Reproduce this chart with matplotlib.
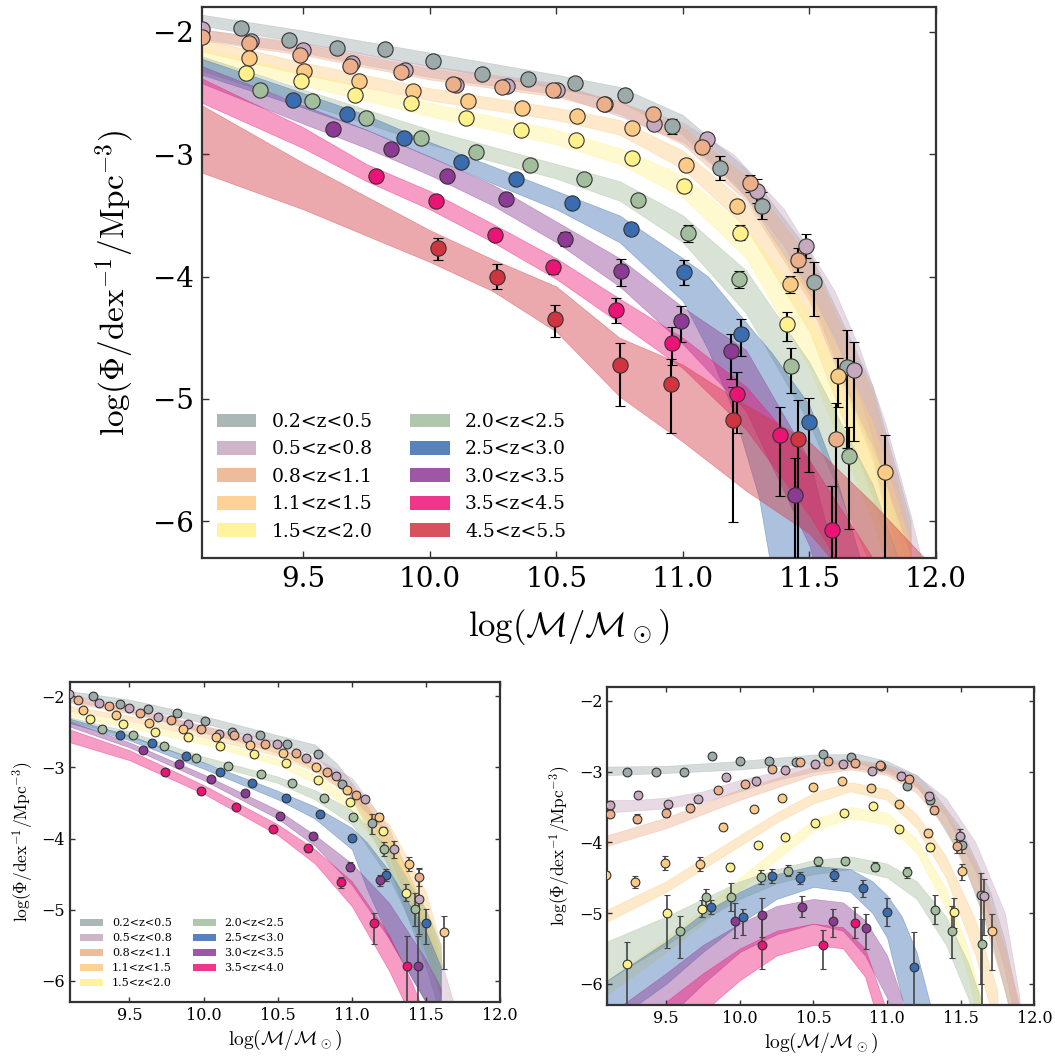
import matplotlib
matplotlib.use("Agg")
import matplotlib.pyplot as plt
from matplotlib.patches import Patch

plt.rcParams['font.family'] = ['DejaVu Serif']
plt.rcParams['mathtext.fontset'] = 'cm'

# ---------------- colours / labels ----------------
COLORS = ['#9DAAAA', '#C6A9BF', '#ECAF8A', '#FDCB85', '#FFF28D',
          '#A3BE9C', '#3A6CB0', '#8C3A94', '#EB1476', '#D0343F']
LABELS_TOP = ['0.2<z<0.5', '0.5<z<0.8', '0.8<z<1.1', '1.1<z<1.5', '1.5<z<2.0',
              '2.0<z<2.5', '2.5<z<3.0', '3.0<z<3.5', '3.5<z<4.5', '4.5<z<5.5']
LABELS_BL = ['0.2<z<0.5', '0.5<z<0.8', '0.8<z<1.1', '1.1<z<1.5', '1.5<z<2.0',
             '2.0<z<2.5', '2.5<z<3.0', '3.0<z<3.5', '3.5<z<4.0']
X_TICKS = [9.5, 10.0, 10.5, 11.0, 11.5, 12.0]
Y_TICKS = [-2, -3, -4, -5, -6]

# ---------------- TOP panel: data points ----------------
top_mass = [
    [9.254, 9.445, 9.633, 9.823, 10.015, 10.205, 10.388, 10.573, 10.770, 10.956, 11.145, 11.311, 11.517, 11.649],
    [9.103, 9.296, 9.500, 9.695, 9.901, 10.103, 10.304, 10.502, 10.691, 10.888, 11.097, 11.294, 11.485, 11.675],
    [9.103, 9.287, 9.487, 9.684, 9.886, 10.092, 10.287, 10.489, 10.688, 10.882, 11.077, 11.265, 11.456, 11.606],
    [9.287, 9.502, 9.721, 9.934, 10.151, 10.366, 10.583, 10.800, 11.011, 11.215, 11.425, 11.614, 11.800],
    [9.274, 9.494, 9.705, 9.925, 10.145, 10.362, 10.579, 10.800, 11.004, 11.224, 11.410],
    [9.329, 9.537, 9.750, 9.965, 10.182, 10.396, 10.609, 10.824, 11.020, 11.221, 11.429, 11.658],
    [9.461, 9.675, 9.899, 10.125, 10.340, 10.564, 10.794, 11.004, 11.228, 11.500],
    [9.618, 9.849, 10.070, 10.300, 10.533, 10.754, 10.991, 11.191, 11.445],
    [9.787, 10.027, 10.257, 10.489, 10.735, 10.958, 11.215, 11.382, 11.590],
    [10.035, 10.267, 10.494, 10.751, 10.952, 11.198, 11.456],
]
top_phi = [
    [-1.967, -2.065, -2.134, -2.142, -2.240, -2.342, -2.383, -2.416, -2.517, -2.772, -3.112, -3.421, -4.041, -4.738],
    [-1.976, -2.077, -2.147, -2.256, -2.315, -2.438, -2.446, -2.478, -2.587, -2.750, -2.880, -3.299, -3.750, -4.766],
    [-2.044, -2.093, -2.187, -2.280, -2.329, -2.424, -2.452, -2.473, -2.587, -2.674, -2.940, -3.239, -3.864, -5.331],
    [-2.212, -2.323, -2.403, -2.485, -2.566, -2.623, -2.690, -2.788, -3.090, -3.421, -4.062, -4.815, -5.597],
    [-2.334, -2.400, -2.519, -2.582, -2.707, -2.799, -2.886, -3.035, -3.261, -3.641, -4.388],
    [-2.473, -2.568, -2.704, -2.872, -2.984, -3.090, -3.204, -3.378, -3.646, -4.021, -4.728, -5.467],
    [-2.554, -2.674, -2.864, -3.068, -3.204, -3.402, -3.614, -3.967, -4.467, -5.190],
    [-2.791, -2.954, -3.179, -3.367, -3.693, -3.954, -4.361, -4.611, -5.787],
    [-3.177, -3.380, -3.660, -3.926, -4.277, -4.543, -4.958, -5.296, -6.070],
    [-3.769, -4.000, -4.345, -4.725, -4.877, -5.176, -5.325],
]
top_err_up = [
    [0.03, 0.03, 0.03, 0.04, 0.04, 0.04, 0.04, 0.04, 0.05, 0.06, 0.10, 0.11, 0.16, 0.30],
    [0.03, 0.03, 0.03, 0.03, 0.03, 0.03, 0.03, 0.03, 0.03, 0.04, 0.05, 0.10, 0.10, 0.23],
    [0.03, 0.03, 0.03, 0.03, 0.03, 0.03, 0.03, 0.03, 0.03, 0.04, 0.05, 0.07, 0.10, 0.30],
    [0.03, 0.03, 0.03, 0.03, 0.03, 0.03, 0.03, 0.04, 0.05, 0.05, 0.07, 0.15, 0.30],
    [0.03, 0.03, 0.03, 0.03, 0.03, 0.03, 0.03, 0.04, 0.05, 0.06, 0.10],
    [0.03, 0.03, 0.03, 0.03, 0.03, 0.03, 0.03, 0.04, 0.07, 0.07, 0.14, 0.24],
    [0.03, 0.03, 0.03, 0.03, 0.03, 0.04, 0.05, 0.10, 0.12, 0.20],
    [0.03, 0.03, 0.04, 0.05, 0.06, 0.10, 0.12, 0.14, 0.30],
    [0.03, 0.03, 0.04, 0.05, 0.10, 0.13, 0.18, 0.23, 0.36],
    [0.08, 0.10, 0.11, 0.18, 0.20, 0.27, 0.32],
]
top_err_lo = [
    [0.03, 0.03, 0.03, 0.04, 0.04, 0.04, 0.04, 0.04, 0.05, 0.06, 0.10, 0.11, 0.28, 0.66],
    [0.03, 0.03, 0.03, 0.03, 0.03, 0.03, 0.03, 0.03, 0.03, 0.04, 0.05, 0.10, 0.10, 0.58],
    [0.03, 0.03, 0.03, 0.03, 0.03, 0.03, 0.03, 0.03, 0.03, 0.04, 0.05, 0.07, 0.10, 1.20],
    [0.03, 0.03, 0.03, 0.03, 0.03, 0.03, 0.03, 0.04, 0.05, 0.05, 0.07, 0.25, 1.00],
    [0.03, 0.03, 0.03, 0.03, 0.03, 0.03, 0.03, 0.04, 0.05, 0.06, 0.14],
    [0.03, 0.03, 0.03, 0.03, 0.03, 0.03, 0.03, 0.04, 0.07, 0.07, 0.22, 0.60],
    [0.03, 0.03, 0.03, 0.03, 0.03, 0.04, 0.05, 0.10, 0.18, 0.41],
    [0.03, 0.03, 0.04, 0.05, 0.06, 0.12, 0.17, 0.23, 1.00],
    [0.03, 0.03, 0.04, 0.05, 0.10, 0.18, 0.32, 0.50, 0.60],
    [0.10, 0.10, 0.15, 0.33, 0.40, 0.83, 1.00],
]

# ---------------- TOP panel: model bands ----------------
top_band_x = [
    [9.1, 9.5, 10.0, 10.5, 10.75, 11.0, 11.25, 11.5, 11.75, 11.9],
    [9.1, 9.5, 10.0, 10.5, 10.75, 11.0, 11.2, 11.4, 11.6, 11.7, 11.8, 11.9, 12.0],
    [9.1, 9.5, 10.0, 10.5, 10.75, 11.0, 11.25, 11.5, 11.75, 11.9],
    [9.1, 9.5, 10.0, 10.5, 10.75, 11.0, 11.25, 11.5, 11.75, 11.9],
    [9.1, 9.5, 10.0, 10.5, 10.75, 11.0, 11.25, 11.5, 11.75, 11.9],
    [9.1, 9.5, 10.0, 10.5, 10.75, 11.0, 11.25, 11.5, 11.75, 11.85],
    [9.1, 9.5, 9.75, 10.0, 10.25, 10.5, 10.75, 11.0, 11.1, 11.2, 11.3, 11.35, 11.5, 11.6, 11.7],
    [9.1, 9.5, 9.75, 10.0, 10.25, 10.5, 10.75, 11.0, 11.25, 11.5, 11.6],
    [9.1, 9.5, 9.75, 10.0, 10.25, 10.5, 10.75, 11.0, 11.25, 11.5, 11.75],
    [9.1, 9.5, 10.0, 10.25, 10.5, 10.75, 11.0, 11.25, 11.5, 11.75, 12.0],
]
top_band_hi = [
    [-1.86, -1.99, -2.17, -2.35, -2.45, -2.68, -3.12, -3.80, -4.90, -6.00],
    [-1.98, -2.09, -2.28, -2.42, -2.58, -2.74, -3.00, -3.45, -4.12, -4.60, -5.20, -5.95, -6.80],
    [-1.98, -2.10, -2.30, -2.44, -2.57, -2.78, -3.18, -3.85, -4.95, -6.10],
    [-2.06, -2.25, -2.46, -2.62, -2.72, -2.97, -3.40, -4.10, -5.20, -6.20],
    [-2.13, -2.33, -2.58, -2.80, -2.95, -3.17, -3.60, -4.30, -5.40, -6.30],
    [-2.20, -2.47, -2.80, -3.08, -3.22, -3.50, -3.95, -4.70, -5.70, -6.30],
    [-2.22, -2.50, -2.68, -2.90, -3.10, -3.30, -3.50, -3.85, -4.00, -4.25, -4.50, -4.62, -5.05, -5.60, -6.30],
    [-2.28, -2.60, -2.80, -3.02, -3.25, -3.55, -3.85, -4.25, -4.60, -5.50, -6.30],
    [-2.38, -2.78, -3.08, -3.30, -3.57, -3.85, -4.18, -4.50, -4.90, -5.50, -6.30],
    [-2.60, -3.07, -3.62, -3.86, -4.08, -4.50, -4.72, -5.05, -5.35, -5.85, -6.40],
]
top_band_lo = [
    [-1.95, -2.09, -2.28, -2.46, -2.57, -2.84, -3.35, -4.15, -5.45, -6.70],
    [-2.06, -2.17, -2.37, -2.51, -2.69, -2.90, -3.22, -3.75, -4.50, -5.00, -5.65, -6.50, -7.30],
    [-2.07, -2.19, -2.39, -2.53, -2.67, -2.92, -3.38, -4.20, -5.50, -6.80],
    [-2.16, -2.35, -2.56, -2.72, -2.84, -3.12, -3.60, -4.45, -5.80, -6.90],
    [-2.24, -2.44, -2.69, -2.92, -3.08, -3.35, -3.85, -4.75, -6.00, -7.00],
    [-2.32, -2.58, -2.92, -3.20, -3.38, -3.72, -4.30, -5.20, -6.40, -7.00],
    [-2.35, -2.62, -2.80, -3.02, -3.24, -3.45, -3.72, -4.20, -4.60, -5.10, -5.80, -6.40, -7.00, -7.50, -8.00],
    [-2.42, -2.75, -2.95, -3.17, -3.42, -3.72, -4.08, -4.55, -5.10, -6.20, -7.00],
    [-2.58, -2.95, -3.22, -3.45, -3.72, -4.02, -4.38, -4.75, -5.25, -5.95, -6.80],
    [-3.15, -3.45, -3.88, -4.12, -4.45, -4.98, -5.35, -5.75, -6.10, -6.70, -7.20],
]

# ---------------- BOTTOM-LEFT panel ----------------
bl_mass = [
    [9.256, 9.439, 9.629, 9.823, 10.012, 10.195, 10.384, 10.565, 10.770, 10.933, 11.136],
    [9.090, 9.292, 9.500, 9.692, 9.895, 10.102, 10.296, 10.495, 10.691, 10.894, 11.091, 11.287, 11.452],
    [9.155, 9.360, 9.574, 9.782, 9.985, 10.206, 10.418, 10.621, 10.831, 11.030, 11.452],
    [9.189, 9.410, 9.635, 9.861, 10.087, 10.312, 10.533, 10.759, 10.971, 11.183, 11.386, 11.623],
    [9.234, 9.459, 9.674, 9.895, 10.114, 10.339, 10.556, 10.770, 10.989, 11.210, 11.368],
    [9.313, 9.523, 9.732, 9.947, 10.166, 10.387, 10.594, 10.813, 11.007, 11.219, 11.425],
    [9.439, 9.653, 9.884, 10.109, 10.330, 10.554, 10.786, 11.000, 11.233, 11.499],
    [9.595, 9.832, 10.048, 10.283, 10.515, 10.741, 10.985, 11.188, 11.445],
    [9.737, 9.985, 10.222, 10.470, 10.703, 10.928, 11.147, 11.373],
]
bl_phi = [
    [-2.000, -2.116, -2.186, -2.242, -2.349, -2.498, -2.549, -2.674, -2.819, -3.237, -3.781],
    [-1.977, -2.093, -2.172, -2.288, -2.386, -2.535, -2.591, -2.674, -2.865, -3.126, -3.451, -4.149, -4.847],
    [-2.060, -2.140, -2.242, -2.340, -2.465, -2.544, -2.674, -2.800, -3.065, -3.395, -4.544],
    [-2.200, -2.265, -2.381, -2.465, -2.581, -2.688, -2.805, -2.991, -3.316, -3.698, -4.353, -5.307],
    [-2.316, -2.386, -2.498, -2.581, -2.707, -2.819, -2.944, -3.172, -3.488, -3.893, -4.763],
    [-2.465, -2.549, -2.707, -2.870, -2.986, -3.098, -3.223, -3.428, -3.698, -4.149, -4.995],
    [-2.549, -2.656, -2.847, -3.070, -3.219, -3.428, -3.656, -3.991, -4.512, -5.186],
    [-2.758, -2.949, -3.163, -3.363, -3.684, -3.958, -4.395, -4.586, -5.791],
    [-3.070, -3.340, -3.558, -3.860, -4.140, -4.614, -5.186, -5.791],
]
bl_err_up = [
    [0.02, 0.02, 0.02, 0.02, 0.02, 0.02, 0.02, 0.03, 0.03, 0.05, 0.12],
    [0.02, 0.02, 0.02, 0.02, 0.02, 0.02, 0.02, 0.02, 0.03, 0.03, 0.04, 0.12, 0.43],
    [0.02, 0.02, 0.02, 0.02, 0.02, 0.02, 0.02, 0.02, 0.03, 0.03, 0.12],
    [0.02, 0.02, 0.02, 0.02, 0.02, 0.02, 0.02, 0.02, 0.03, 0.05, 0.10, 0.22],
    [0.02, 0.02, 0.02, 0.02, 0.02, 0.02, 0.02, 0.02, 0.03, 0.05, 0.12],
    [0.02, 0.02, 0.02, 0.02, 0.02, 0.02, 0.02, 0.03, 0.04, 0.10, 0.23],
    [0.02, 0.02, 0.02, 0.02, 0.02, 0.02, 0.03, 0.04, 0.08, 0.20],
    [0.02, 0.02, 0.02, 0.03, 0.03, 0.04, 0.06, 0.08, 0.42],
    [0.02, 0.02, 0.02, 0.03, 0.05, 0.08, 0.14, 0.42],
]
bl_err_lo = [
    [0.02, 0.02, 0.02, 0.02, 0.02, 0.02, 0.02, 0.03, 0.03, 0.05, 0.16],
    [0.02, 0.02, 0.02, 0.02, 0.02, 0.02, 0.02, 0.02, 0.03, 0.03, 0.04, 0.12, 0.50],
    [0.02, 0.02, 0.02, 0.02, 0.02, 0.02, 0.02, 0.02, 0.03, 0.03, 0.12],
    [0.02, 0.02, 0.02, 0.02, 0.02, 0.02, 0.02, 0.02, 0.03, 0.05, 0.10, 0.53],
    [0.02, 0.02, 0.02, 0.02, 0.02, 0.02, 0.02, 0.02, 0.03, 0.05, 0.12],
    [0.02, 0.02, 0.02, 0.02, 0.02, 0.02, 0.02, 0.03, 0.04, 0.10, 0.23],
    [0.02, 0.02, 0.02, 0.02, 0.02, 0.02, 0.03, 0.04, 0.08, 0.30],
    [0.02, 0.02, 0.02, 0.03, 0.03, 0.04, 0.06, 0.08, 0.60],
    [0.02, 0.02, 0.02, 0.03, 0.05, 0.08, 0.30, 0.60],
]
bl_band_x = [
    [9.1, 9.5, 10.0, 10.5, 10.75, 10.9, 11.0, 11.25, 11.5, 11.6],
    [9.1, 9.5, 10.0, 10.5, 10.75, 11.0, 11.25, 11.5, 11.6, 11.7],
    [9.1, 9.5, 10.0, 10.5, 10.75, 11.0, 11.25, 11.5, 11.6],
    [9.1, 9.5, 10.0, 10.5, 10.75, 11.0, 11.25, 11.5, 11.6],
    [9.1, 9.5, 10.0, 10.5, 10.75, 11.0, 11.25, 11.5, 11.6],
    [9.1, 9.5, 10.0, 10.5, 10.75, 11.0, 11.25, 11.5, 11.6],
    [9.1, 9.5, 10.0, 10.5, 10.75, 11.0, 11.1, 11.25, 11.5, 11.6],
    [9.1, 9.5, 10.0, 10.5, 10.75, 11.0, 11.25, 11.5, 11.6],
    [9.1, 9.5, 10.0, 10.5, 10.75, 11.0, 11.25, 11.4, 11.5],
]
bl_band_hi = [
    [-1.93, -2.05, -2.28, -2.55, -2.68, -2.95, -3.22, -4.00, -5.20, -5.80],
    [-2.00, -2.13, -2.42, -2.63, -2.86, -3.15, -3.85, -5.10, -5.70, -6.40],
    [-2.02, -2.17, -2.42, -2.72, -2.93, -3.28, -3.95, -5.00, -5.60],
    [-2.14, -2.28, -2.50, -2.75, -2.95, -3.27, -3.80, -4.75, -5.50],
    [-2.22, -2.37, -2.60, -2.88, -3.10, -3.45, -3.95, -5.05, -5.60],
    [-2.30, -2.50, -2.85, -3.13, -3.32, -3.60, -4.15, -5.00, -5.50],
    [-2.32, -2.55, -2.93, -3.33, -3.55, -3.85, -4.05, -4.45, -5.30, -5.80],
    [-2.36, -2.65, -3.10, -3.60, -3.95, -4.35, -4.90, -5.70, -6.10],
    [-2.47, -2.76, -3.25, -3.80, -4.15, -4.60, -5.35, -6.00, -6.50],
]
bl_band_lo = [
    [-2.00, -2.13, -2.38, -2.66, -2.82, -3.15, -3.45, -4.40, -5.80, -6.50],
    [-2.07, -2.21, -2.52, -2.73, -2.98, -3.32, -4.20, -5.60, -6.30, -7.00],
    [-2.09, -2.24, -2.50, -2.80, -3.03, -3.42, -4.25, -5.50, -6.20],
    [-2.21, -2.35, -2.58, -2.84, -3.06, -3.42, -4.10, -5.25, -6.10],
    [-2.28, -2.44, -2.68, -2.97, -3.22, -3.62, -4.30, -5.60, -6.30],
    [-2.36, -2.57, -2.93, -3.22, -3.45, -3.80, -4.55, -5.60, -6.20],
    [-2.38, -2.62, -3.02, -3.45, -3.72, -4.15, -4.70, -5.40, -6.30, -7.00],
    [-2.43, -2.72, -3.18, -3.72, -4.10, -4.65, -5.40, -6.30, -6.90],
    [-2.65, -2.90, -3.37, -3.95, -4.35, -4.95, -5.85, -6.50, -7.00],
]

# ---------------- BOTTOM-RIGHT panel ----------------
br_mass = [
    [9.232, 9.433, 9.622, 9.809, 10.002, 10.200, 10.378, 10.564, 10.758, 10.956, 11.134, 11.293, 11.509, 11.635],
    [9.119, 9.306, 9.512, 9.715, 9.904, 10.109, 10.309, 10.508, 10.701, 10.895, 11.093, 11.282, 11.498, 11.657],
    [9.119, 9.300, 9.501, 9.661, 9.854, 10.034, 10.218, 10.410, 10.599, 10.781, 10.952, 11.152, 11.320, 11.475],
    [9.090, 9.289, 9.494, 9.729, 9.888, 10.098, 10.287, 10.496, 10.694, 10.890, 11.084, 11.277, 11.509, 11.710],
    [9.236, 9.505, 9.740, 9.931, 10.123, 10.309, 10.512, 10.705, 10.901, 11.084, 11.293, 11.455],
    [9.590, 9.768, 9.943, 10.143, 10.325, 10.530, 10.717, 10.917, 11.134, 11.323, 11.441, 11.642],
    [9.802, 10.023, 10.218, 10.410, 10.637, 10.838, 10.997, 11.186],
    [9.966, 10.150, 10.419, 10.633, 10.860],
    [10.150, 10.564, 10.781],
]
br_phi = [
    [-3.013, -3.013, -3.008, -2.786, -2.857, -2.857, -2.871, -2.758, -2.796, -2.918, -3.201, -3.398, -4.034, -4.740],
    [-3.469, -3.328, -3.460, -3.389, -3.078, -3.130, -2.975, -2.894, -2.894, -2.989, -3.059, -3.342, -3.907, -4.764],
    [-3.597, -3.667, -3.587, -3.511, -3.266, -3.172, -2.965, -2.871, -2.857, -2.880, -2.904, -3.106, -3.540, -4.057],
    [-4.458, -4.561, -4.293, -4.302, -3.780, -3.525, -3.379, -3.215, -3.135, -3.238, -3.455, -3.869, -4.410, -5.258],
    [-5.715, -4.999, -4.938, -4.349, -4.042, -3.926, -3.728, -3.587, -3.492, -3.808, -4.072, -4.985],
    [-5.249, -4.778, -4.769, -4.490, -4.401, -4.270, -4.260, -4.345, -4.425, -4.952, -5.249, -5.432],
    [-4.915, -5.060, -4.481, -4.505, -4.463, -4.651, -4.985, -5.762],
    [-5.107, -5.032, -4.910, -5.107, -5.211],
    [-5.446, -5.446, -5.140],
]
br_err_up = [
    [0.04, 0.04, 0.04, 0.04, 0.04, 0.04, 0.04, 0.04, 0.04, 0.04, 0.05, 0.06, 0.12, 0.30],
    [0.05, 0.05, 0.05, 0.05, 0.05, 0.05, 0.05, 0.05, 0.05, 0.05, 0.05, 0.05, 0.10, 0.25],
    [0.05, 0.06, 0.06, 0.05, 0.04, 0.04, 0.04, 0.04, 0.04, 0.04, 0.04, 0.04, 0.06, 0.10],
    [0.05, 0.09, 0.10, 0.10, 0.05, 0.04, 0.04, 0.04, 0.04, 0.04, 0.04, 0.06, 0.10, 0.25],
    [0.30, 0.25, 0.12, 0.06, 0.04, 0.04, 0.04, 0.04, 0.04, 0.04, 0.05, 0.20],
    [0.20, 0.12, 0.20, 0.10, 0.08, 0.06, 0.05, 0.06, 0.08, 0.20, 0.35, 0.35],
    [0.10, 0.12, 0.10, 0.08, 0.08, 0.12, 0.20, 0.50],
    [0.25, 0.25, 0.15, 0.17, 0.20],
    [0.40, 0.20, 0.22],
]
br_err_lo = [
    [0.04, 0.04, 0.04, 0.04, 0.04, 0.04, 0.04, 0.04, 0.04, 0.04, 0.05, 0.06, 0.12, 1.26],
    [0.05, 0.05, 0.05, 0.05, 0.05, 0.05, 0.05, 0.05, 0.05, 0.05, 0.05, 0.05, 0.10, 0.55],
    [0.05, 0.06, 0.06, 0.05, 0.04, 0.04, 0.04, 0.04, 0.04, 0.04, 0.04, 0.04, 0.06, 0.10],
    [0.05, 0.09, 0.10, 0.10, 0.05, 0.04, 0.04, 0.04, 0.04, 0.04, 0.04, 0.06, 0.12, 0.55],
    [0.70, 0.50, 0.12, 0.06, 0.04, 0.04, 0.04, 0.04, 0.04, 0.04, 0.05, 0.22],
    [0.38, 0.12, 0.20, 0.10, 0.08, 0.06, 0.05, 0.06, 0.08, 0.20, 0.38, 0.90],
    [0.10, 0.25, 0.10, 0.08, 0.08, 0.12, 0.20, 0.60],
    [0.25, 0.30, 0.15, 0.23, 0.30],
    [0.35, 0.35, 0.22],
]
br_band_x = [
    [9.1, 9.5, 10.0, 10.5, 10.8, 11.0, 11.2, 11.3, 11.5, 11.7, 11.8, 11.9],
    [9.1, 9.3, 9.5, 9.75, 10.0, 10.25, 10.5, 10.75, 11.0, 11.2, 11.4, 11.6, 11.8, 11.9],
    [9.1, 9.5, 10.0, 10.5, 10.75, 11.0, 11.2, 11.4, 11.6, 11.8, 11.9],
    [9.1, 9.5, 10.0, 10.25, 10.5, 10.75, 11.0, 11.2, 11.4, 11.6, 11.75],
    [9.1, 9.5, 9.75, 10.0, 10.25, 10.5, 10.75, 11.0, 11.2, 11.4, 11.55, 11.65],
    [9.1, 9.5, 9.75, 10.0, 10.25, 10.5, 10.75, 11.0, 11.2, 11.4, 11.55, 11.65],
    [9.1, 9.5, 9.75, 10.0, 10.25, 10.5, 10.75, 10.9, 11.0, 11.1, 11.2, 11.3],
    [9.2, 9.5, 9.75, 10.0, 10.25, 10.5, 10.7, 10.85, 11.0, 11.1],
    [9.5, 9.75, 10.0, 10.25, 10.5, 10.7, 10.85, 10.95, 11.05],
]
br_band_hi = [
    [-2.93, -2.92, -2.85, -2.76, -2.75, -2.85, -3.05, -3.25, -3.80, -4.70, -5.40, -6.40],
    [-3.40, -3.40, -3.37, -3.28, -3.12, -3.00, -2.88, -2.82, -2.90, -3.05, -3.38, -4.00, -5.00, -6.20],
    [-3.90, -3.65, -3.25, -2.93, -2.85, -2.93, -3.15, -3.55, -4.30, -5.50, -6.30],
    [-4.95, -4.55, -3.90, -3.58, -3.30, -3.15, -3.25, -3.60, -4.20, -5.10, -6.10],
    [-5.95, -5.35, -4.95, -4.50, -4.08, -3.68, -3.50, -3.58, -3.95, -4.65, -5.50, -6.30],
    [-5.40, -5.05, -4.80, -4.55, -4.38, -4.25, -4.20, -4.30, -4.55, -5.05, -5.70, -6.30],
    [-5.95, -5.40, -5.00, -4.70, -4.45, -4.33, -4.38, -4.55, -4.75, -5.05, -5.55, -6.35],
    [-6.30, -5.85, -5.45, -5.15, -4.90, -4.80, -4.85, -5.10, -5.60, -6.20],
    [-6.25, -5.85, -5.50, -5.25, -5.15, -5.20, -5.50, -6.10, -6.70],
]
br_band_lo = [
    [-3.05, -3.02, -2.97, -2.88, -2.88, -2.98, -3.20, -3.50, -4.20, -5.30, -6.10, -7.00],
    [-3.58, -3.55, -3.52, -3.43, -3.28, -3.12, -3.00, -2.94, -3.02, -3.22, -3.62, -4.40, -5.80, -6.80],
    [-4.05, -3.80, -3.40, -3.05, -2.97, -3.05, -3.30, -3.80, -4.70, -6.10, -6.90],
    [-5.12, -4.70, -4.05, -3.72, -3.45, -3.28, -3.40, -3.80, -4.50, -5.60, -6.70],
    [-6.15, -5.55, -5.15, -4.68, -4.25, -3.84, -3.66, -3.75, -4.15, -4.95, -5.90, -6.80],
    [-5.95, -5.45, -5.10, -4.80, -4.58, -4.45, -4.38, -4.50, -4.80, -5.45, -6.20, -6.90],
    [-6.60, -6.00, -5.55, -5.15, -4.80, -4.63, -4.70, -5.00, -5.35, -6.20, -6.90, -7.50],
    [-6.90, -6.50, -6.00, -5.55, -5.30, -5.15, -5.25, -5.60, -6.20, -7.00],
    [-6.80, -6.40, -5.95, -5.60, -5.45, -5.50, -5.90, -6.60, -7.30],
]

XLABEL = r'$\log(\mathcal{M}/\mathcal{M}_\odot)$'
YLABEL = r'$\log(\Phi/\mathrm{dex}^{-1}/\mathrm{Mpc}^{-3})$'


def draw_panel(ax, mass, phi, eu, el, bx, bhi, blo, ms, elw, cap, ecol, band_alpha=0.42):
    n = len(mass)
    for i in range(n):
        c = COLORS[i]
        ax.fill_between(bx[i], blo[i], bhi[i], facecolor=c, alpha=band_alpha,
                        edgecolor=c, linewidth=0.5, zorder=1 + i * 0.01)
    for i in range(n):
        c = COLORS[i]
        ax.errorbar(mass[i], phi[i], yerr=[el[i], eu[i]], fmt='o', ms=ms,
                    mfc=c, mec='#333333', mew=0.8, ecolor=ecol, elinewidth=elw,
                    capsize=cap, capthick=elw, zorder=3 + i * 0.01)
    ax.set_xlim(9.1, 12.0)
    ax.set_ylim(-6.3, -1.8)
    ax.set_xticks(X_TICKS)
    ax.set_xticklabels(['%.1f' % v for v in X_TICKS])
    ax.set_yticks(Y_TICKS)
    ax.tick_params(direction='in', top=True, right=True, length=5, width=1,
                   color='#333333')
    for s in ax.spines.values():
        s.set_color('#333333')
        s.set_linewidth(1.6)


fig = plt.figure(figsize=(10.55, 10.59), dpi=100)

# top panel
ax = fig.add_axes([0.1912, 0.4731, 0.696, 0.520])
draw_panel(ax, top_mass, top_phi, top_err_up, top_err_lo,
           top_band_x, top_band_hi, top_band_lo, ms=11, elw=1.5, cap=3.5, ecol='black')
ax.tick_params(labelsize=20, pad=6)
ax.set_xlabel(XLABEL, fontsize=25, labelpad=10)
ax.set_ylabel(YLABEL, fontsize=24, labelpad=12)
handles = [Patch(facecolor=c, edgecolor='none', alpha=0.85) for c in COLORS]
ax.legend(handles, LABELS_TOP, ncol=2, loc='lower left', bbox_to_anchor=(0.01, 0.018),
          borderaxespad=0, frameon=False, fontsize=13.5, handlelength=2.13,
          handleheight=0.76, labelspacing=0.5, columnspacing=2.0, handletextpad=0.8)

# bottom-left panel
ax2 = fig.add_axes([0.0664, 0.0535, 0.4076, 0.3027])
draw_panel(ax2, bl_mass, bl_phi, bl_err_up, bl_err_lo,
           bl_band_x, bl_band_hi, bl_band_lo, ms=6.3, elw=1.2, cap=2, ecol='#444444')
ax2.tick_params(labelsize=11.5, length=3.5)
ax2.set_xlabel(XLABEL, fontsize=14, labelpad=3)
ax2.set_ylabel(YLABEL, fontsize=12.5, labelpad=4)
handles2 = [Patch(facecolor=c, edgecolor='none', alpha=0.85) for c in COLORS[:9]]
ax2.legend(handles2, LABELS_BL, ncol=2, loc='lower left', bbox_to_anchor=(0.013, 0.03),
           borderaxespad=0, frameon=False, fontsize=8, handlelength=2.05,
           handleheight=0.7, labelspacing=0.45, columnspacing=1.9, handletextpad=0.8)

# bottom-right panel
ax3 = fig.add_axes([0.5757, 0.051, 0.4047, 0.3006])
draw_panel(ax3, br_mass, br_phi, br_err_up, br_err_lo,
           br_band_x, br_band_hi, br_band_lo, ms=6.3, elw=1.2, cap=2, ecol='#444444')
ax3.tick_params(labelsize=11.5, length=3.5)
ax3.set_xlabel(XLABEL, fontsize=14, labelpad=3)
ax3.set_ylabel(YLABEL, fontsize=12.5, labelpad=4)

fig.savefig('out.png', dpi=100)
